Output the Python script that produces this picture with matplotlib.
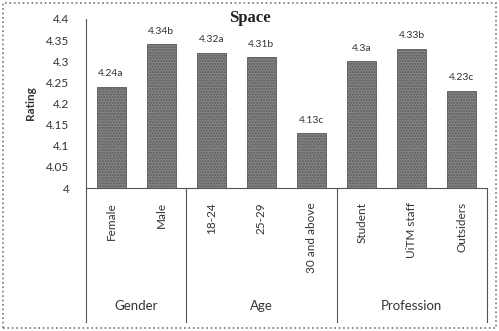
import matplotlib.pyplot as plt
import matplotlib.patches as patches
import numpy as np

# ratings by respondent category
categories = ["Female", "Male", "18-24", "25-29", "30 and above",
              "Student", "UiTM staff", "Outsiders"]
ratings = [4.24, 4.34, 4.32, 4.31, 4.13, 4.30, 4.33, 4.23]
value_labels = ["4.24a", "4.34b", "4.32a", "4.31b", "4.13c", "4.3a", "4.33b", "4.23c"]

groups = ["Gender", "Age", "Profession"]
group_sizes = [2, 3, 3]

yticks = [4, 4.05, 4.1, 4.15, 4.2, 4.25, 4.3, 4.35, 4.4]
ytick_labels = ["4", "4.05", "4.1", "4.15", "4.2", "4.25", "4.3", "4.35", "4.4"]

plt.rcParams['font.family'] = ['Lato', 'DejaVu Sans']
plt.rcParams['hatch.color'] = '#555555'

fig = plt.figure(figsize=(4.99, 3.31), dpi=100)
ax = fig.add_axes([0.1723, 0.432, 0.8037, 0.5106])

x = np.arange(len(categories))
ax.bar(x, [r - 4 for r in ratings], bottom=4, width=0.58,
       color="#858585", edgecolor="#5a5a5a", linewidth=0.6,
       hatch="......", zorder=2)

for xi, r, lab in zip(x, ratings, value_labels):
    ax.annotate(lab, (xi, r), xytext=(0, 6), textcoords="offset points",
                ha="center", va="bottom", fontsize=7.5, color="#333333")

ax.set_xlim(-0.5, len(categories) - 0.5)
ax.set_ylim(4, 4.4)
ax.set_yticks(yticks)
ax.set_yticklabels(ytick_labels, fontsize=8.5, color="#333333")
ax.tick_params(axis="y", length=0, pad=12)
ax.set_xticks(x)
ax.set_xticklabels(categories, rotation=90, fontsize=8.5, color="#333333",
                   va="top")
ax.tick_params(axis="x", length=0, pad=10)

for s in ["top", "right"]:
    ax.spines[s].set_visible(False)
for s in ["left", "bottom"]:
    ax.spines[s].set_color("#555555")
    ax.spines[s].set_linewidth(0.8)

ax.set_ylabel("Rating", fontsize=8.5, fontweight="bold", color="#333333",
              labelpad=7)
fig.text(0.50, 0.947, "Space", fontsize=12, fontweight="bold",
         family="Liberation Serif", ha="center", va="center", color="#222222")

# group separators and names below the axis
trans = ax.get_xaxis_transform()
edges = np.concatenate([[0], np.cumsum(group_sizes)]) - 0.5
for e in edges:
    ax.plot([e, e], [0, -0.79], transform=trans, color="#555555",
            linewidth=0.8, clip_on=False)
for g, a, b in zip(groups, edges[:-1], edges[1:]):
    ax.text((a + b) / 2, -0.70, g, transform=trans, ha="center", va="center",
            fontsize=9.5, color="#333333")

fig.patches.append(patches.Rectangle((0.006, 0.01), 0.988, 0.98,
                                     transform=fig.transFigure, fill=False,
                                     edgecolor="#777777", linewidth=1.2,
                                     linestyle=":"))

fig.savefig("out.png", dpi=100)
